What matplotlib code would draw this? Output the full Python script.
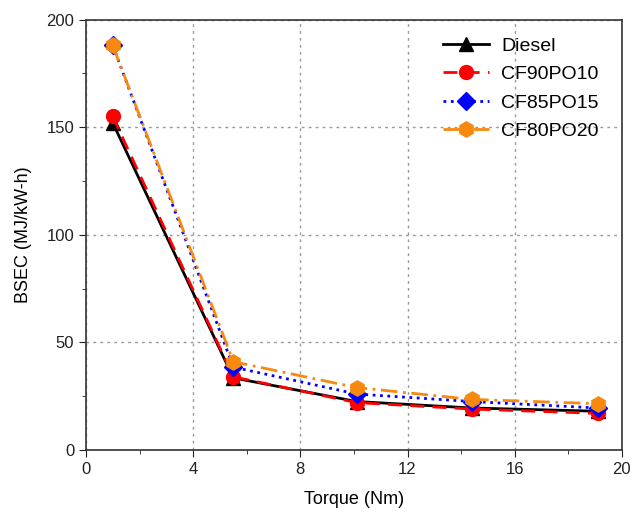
import matplotlib.pyplot as plt

plt.rcParams['font.family'] = ['Liberation Sans', 'DejaVu Sans']

torque = [1.0, 5.5, 10.1, 14.4, 19.1]
diesel = [152, 33.5, 22.5, 19.5, 18]
cf90po10 = [155, 34, 22, 19, 17]
cf85po15 = [188, 38.5, 26, 22.5, 19.5]
cf80po20 = [188, 41, 29, 23.5, 21.5]

fig = plt.figure(figsize=(6.32, 5.16), dpi=100)
ax = fig.add_axes([0.136, 0.128, 0.848, 0.834])

ax.plot(torque, diesel, color='black', linestyle='-', marker='^', markersize=10, lw=2, label='Diesel', zorder=3)
ax.plot(torque, cf90po10, color='red', linestyle=(0, (5, 3)), marker='o', markersize=10, lw=2, label='CF90PO10', zorder=4)
ax.plot(torque, cf85po15, color='blue', linestyle=':', marker='D', markersize=9, lw=2, label='CF85PO15', zorder=5)
ax.plot(torque, cf80po20, color='#f7890f', linestyle=(0, (6, 2, 1, 2)), marker='h', markersize=11, lw=2, label='CF80PO20', zorder=6)

ax.set_xlim(0, 20)
ax.set_ylim(0, 200)
ax.set_xticks([0, 4, 8, 12, 16, 20])
ax.set_xticks([2, 6, 10, 14, 18], minor=True)
ax.set_yticks([0, 50, 100, 150, 200])
ax.set_yticks([25, 75, 125, 175], minor=True)
ax.tick_params(axis='both', which='both', direction='out', labelsize=12, colors='#222222')
ax.tick_params(which='major', length=5)
ax.tick_params(which='minor', length=3)
ax.grid(True, which='major', linestyle=(0, (2, 3)), color='#999999', lw=1)
for s in ax.spines.values():
    s.set_linewidth(1.2)
    s.set_color('#333333')

ax.set_xlabel('Torque (Nm)', fontsize=13, labelpad=10)
ax.set_ylabel('BSEC (MJ/kW-h)', fontsize=13, labelpad=10)
ax.legend(loc='upper right', bbox_to_anchor=(1.0, 1.013), frameon=False, fontsize=14,
          handlelength=2.4, handletextpad=0.6, borderaxespad=0.8, labelspacing=0.55)

fig.savefig('out.png', dpi=100)
